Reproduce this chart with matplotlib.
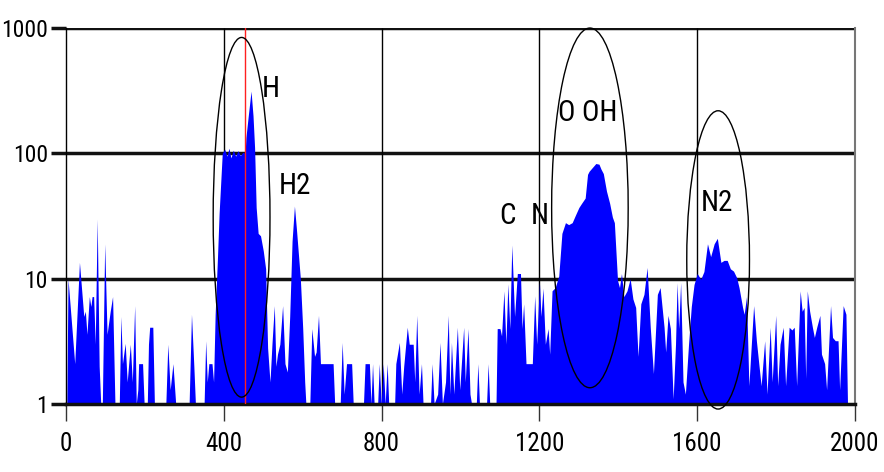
import matplotlib.pyplot as plt
from matplotlib.patches import Ellipse

# spectrum: channel vs counts (1 = no counts, sits on the baseline)
channel = [2, 5, 22, 34, 45, 49, 53, 59, 63, 66, 70, 74, 79, 84, 88, 92, 98, 104, 112, 118,
           124, 135, 139, 143, 150, 155, 163, 168, 174, 178, 182, 184, 194, 198, 206, 209, 212, 220, 224, 253,
           258, 264, 271, 278, 312, 318, 324, 328, 350, 354, 358, 362, 370, 374, 378, 384, 388, 396, 402, 408,
           413, 418, 424, 430, 436, 442, 448, 454, 456, 462, 469, 474, 478, 482, 487, 493, 500, 506, 511, 517,
           522, 528, 532, 536, 542, 549, 555, 561, 567, 573, 579, 584, 587, 594, 600, 605, 608, 618, 623, 630,
           634, 640, 645, 652, 677, 681, 695, 700, 705, 711, 724, 728, 754, 758, 769, 773, 777, 781, 790, 794,
           799, 804, 809, 814, 818, 833, 836, 845, 851, 856, 865, 870, 880, 884, 889, 895, 901, 905, 924, 928,
           933, 942, 948, 954, 962, 969, 973, 977, 983, 992, 998, 1008, 1012, 1019, 1024, 1028, 1040, 1044, 1048, 1066,
           1070, 1074, 1090, 1093, 1100, 1104, 1110, 1115, 1120, 1125, 1130, 1137, 1144, 1152, 1156, 1160, 1166, 1182, 1188, 1193,
           1200, 1204, 1209, 1215, 1222, 1226, 1232, 1240, 1249, 1257, 1266, 1274, 1283, 1291, 1300, 1307, 1316, 1322, 1326, 1334,
           1343, 1351, 1356, 1362, 1370, 1378, 1385, 1390, 1398, 1403, 1408, 1414, 1422, 1430, 1437, 1444, 1450, 1457, 1465, 1473,
           1481, 1489, 1499, 1506, 1516, 1520, 1526, 1532, 1539, 1545, 1549, 1553, 1558, 1564, 1570, 1578, 1585, 1592, 1600, 1609,
           1617, 1626, 1634, 1643, 1651, 1660, 1668, 1676, 1684, 1692, 1700, 1706, 1715, 1719, 1725, 1731, 1743, 1750, 1762, 1771,
           1777, 1785, 1790, 1799, 1804, 1810, 1818, 1824, 1833, 1840, 1846, 1852, 1861, 1866, 1871, 1875, 1879, 1885, 1892, 1897,
           1903, 1911, 1915, 1923, 1928, 1938, 1943, 1950, 1957, 1961, 1970, 1977, 1981, 2000]
counts = [1, 10, 2.1, 13.5, 5, 5.5, 3.6, 7.2, 6, 7.2, 7.2, 3, 30, 2, 1, 1, 19, 3.6, 5.5, 7.2,
          1, 1, 5, 2.1, 3.05, 1.5, 3, 1.5, 6.1, 1, 1.3, 2.1, 2.1, 1, 1, 3, 4.1, 4.1, 1, 1,
          3, 1.3, 2.1, 1, 1, 5.2, 2, 1, 1, 3.2, 1.5, 2.1, 2.1, 1.5, 5.2, 15, 33, 100, 108, 95,
          110, 92, 106, 95, 105, 96, 102, 100, 134, 200, 314, 200, 111, 37, 23, 22, 16.7, 12, 2.8, 1.5,
          3, 6.1, 2, 2.5, 3, 6.1, 2.1, 1.8, 5, 20, 38, 25, 19, 10, 4, 1.5, 1, 1, 4, 2.4,
          2.6, 5.1, 2.1, 2.1, 2.1, 1, 1, 3.1, 1.2, 2.1, 2.1, 1, 1, 2.1, 2.1, 1, 2.1, 1, 1, 2.1,
          1, 2.1, 1, 2.1, 1, 1, 2.1, 3.1, 1.2, 2, 4.1, 3, 3, 1.5, 5.1, 1.2, 2.1, 1, 1, 2.1,
          1, 1.2, 3.1, 1, 1.5, 5.1, 1.2, 3.1, 1.2, 4.1, 1.3, 4.1, 1.5, 4, 1.2, 1, 1, 2.1, 1, 1,
          2.1, 1, 1, 4, 4, 3.5, 8, 3, 9.1, 4, 18.6, 5, 11, 11, 4, 6.3, 2.1, 2.1, 7.3, 3,
          9.4, 5, 8.4, 3, 4, 2.5, 8, 8.5, 10.5, 23, 28, 27, 28, 32, 37, 40, 44, 68, 72, 77,
          83, 82, 75, 69, 50, 40, 31, 28, 9.7, 8.5, 11, 7.2, 8, 10, 6.9, 5.9, 2.4, 6.3, 7.5, 12.3,
          4.1, 1.75, 7.5, 8.5, 4.1, 2.6, 5.1, 4, 1.1, 3, 9.3, 4, 9.3, 1.5, 1.2, 3, 6, 9, 11, 9.9,
          11.4, 19, 15, 19, 21, 13.5, 14, 14, 12, 11.5, 10.2, 8.5, 5.9, 5.2, 7.2, 1.4, 6.1, 3.2, 1.4, 3.2,
          1.2, 4.1, 1.5, 5.1, 1.4, 3, 4.1, 1.4, 4.1, 3.9, 4.1, 1.4, 8, 5.5, 5.9, 1.6, 8, 5.5, 4.1, 3.4,
          4.1, 5.1, 2.5, 2.1, 1.3, 6.1, 3.4, 3.2, 3.2, 1.3, 6.1, 5.2, 1, 1]

x_ticks = [0, 400, 800, 1200, 1600, 2000]
y_ticks = [1, 10, 100, 1000]
marker_channel = 454

# peak labels: text, channel, counts
labels = ['H', 'H2', 'C', 'N', 'O OH', 'N2']
label_x = [520, 580, 1118, 1200, 1322, 1651]
label_y = [324, 55, 31.6, 31.6, 209, 40]

# circled regions: centre channel, centre decade, width (channels), height (decades)
ell_x = [445, 1328, 1653]
ell_y = [1.49, 1.565, 1.15]
ell_w = [144, 194, 159]
ell_h = [2.87, 2.87, 2.38]

narrow = ['Liberation Sans Narrow', 'DejaVu Sans Condensed', 'Roboto Condensed', 'DejaVu Sans']

fig = plt.figure(figsize=(8.84, 4.72), dpi=100)
ax = fig.add_axes([0.0747, 0.144, 0.8925, 0.7966])

ax.fill_between(channel, 1, counts, color='blue', lw=0, zorder=2)

ax.set_yscale('log')
ax.set_ylim(1, 1000)
ax.set_xlim(0, 2000)
ax.set_xticks(x_ticks)
ax.set_yticks(y_ticks)
ax.set_yticklabels([str(v) for v in y_ticks], family=narrow, fontsize=17)
ax.set_xticklabels([str(v) for v in x_ticks], family=narrow, fontsize=18)
ax.minorticks_off()
ax.tick_params(axis='y', length=11, width=2.5, color='#111111', pad=2)
ax.tick_params(axis='x', length=12, width=1, color='#333333', pad=8)

# grid: heavy horizontal lines, thin vertical ones
for v in y_ticks[1:]:
    ax.axhline(v, color='#111111', lw=2.5, zorder=1)
ax.vlines(x_ticks[1:-1], 1, 1000, color='black', lw=1, zorder=1)

ax.spines['top'].set_visible(False)
ax.spines['left'].set_linewidth(1)
ax.spines['right'].set_color('#777777')
ax.spines['right'].set_linewidth(1.5)
ax.spines['bottom'].set_linewidth(2.5)
ax.spines['bottom'].set_color('#111111')

ax.axvline(marker_channel, color='#ff2020', lw=1, zorder=4)

for t, lx, ly in zip(labels, label_x, label_y):
    ax.text(lx, ly, t, ha='center', va='center', fontsize=21, family=narrow, zorder=5)

# overlay with linear decades for the ellipses
ov = fig.add_axes(ax.get_position(), frameon=False)
ov.set_xlim(0, 2000)
ov.set_ylim(0, 3)
ov.axis('off')
for cx, cy, w, h in zip(ell_x, ell_y, ell_w, ell_h):
    ov.add_patch(Ellipse((cx, cy), w, h, fill=False, ec='black', lw=1, clip_on=False))

fig.savefig('out.png', dpi=100)
